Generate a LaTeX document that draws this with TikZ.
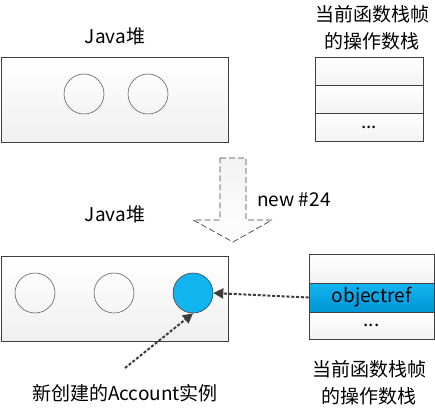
\documentclass[tikz,border=0pt]{standalone}
\usepackage{fontspec}
\setmainfont{Noto Sans CJK SC}
\usetikzlibrary{arrows.meta}

\definecolor{boxline}{HTML}{404040}
\definecolor{refblue}{HTML}{12B4F0}
\definecolor{refbluedark}{HTML}{0096D6}
\definecolor{linkgray}{HTML}{3C3C3C}

\tikzset{
  heap/.style={draw=boxline, line width=0.7pt, top color=white, bottom color=gray!12,
    minimum width=227pt, minimum height=85pt, inner sep=0pt},
  obj/.style={circle, draw=gray!75!black, line width=0.6pt, minimum size=40pt, inner sep=0pt},
  slot/.style={draw=boxline, line width=0.7pt, top color=white, bottom color=gray!10,
    inner sep=0pt},
  txt/.style={font=\fontsize{19}{27}\selectfont, align=center, inner sep=0pt},
  link/.style={draw=linkgray, line width=2pt, dash pattern=on 3pt off 1.8pt,
    -{Triangle[length=10pt,width=10pt]}}
}

\begin{document}
\begin{tikzpicture}[x=1pt, y=-1pt]
  \useasboundingbox (0,0) rectangle (435,410);

  % before new
  \node[txt] (heapA) at (115,36) {Java堆};
  \node[heap] (boxA) at (114.5,99.5) {};
  \node[obj] (a1) at (84,94) {};
  \node[obj] (a2) at (148,94) {};

  \node[txt] (stackA) at (372,28) {当前函数栈帧\\的操作数栈};
  \node[slot, minimum width=108pt, minimum height=28pt] (sa1) at (369,71) {};
  \node[slot, minimum width=108pt, minimum height=28pt] (sa2) at (369,99) {};
  \node[slot, minimum width=108pt, minimum height=28pt] (sa3) at (369,127.5) {};
  \node[txt] at (sa3) {...};

  % new #24
  \draw[dash pattern=on 6pt off 3pt, draw=boxline, line width=0.7pt, top color=gray!10, bottom color=white]
    (220,158) -- (246,158) -- (246,220) -- (272,220) -- (233,242) -- (193,220) -- (220,220) -- cycle;
  \node[txt, anchor=west] (newop) at (257,200) {new \#24};

  % after new
  \node[txt] (heapB) at (115,214) {Java堆};
  \node[heap] (boxB) at (114.5,298.5) {};
  \node[obj] (b1) at (35,293) {};
  \node[obj] (b2) at (114,293) {};
  \node[obj, fill=refblue, draw=boxline] (acct) at (193,293) {};

  \node[slot, minimum width=125pt, minimum height=29pt] (sb1) at (371.5,268.5) {};
  \node[slot, minimum width=125pt, minimum height=29pt, top color=refblue, bottom color=refbluedark] (sb2) at (371.5,297.5) {};
  \node[slot, minimum width=125pt, minimum height=27pt] (sb3) at (371.5,325.5) {};
  \node[txt] at (sb2) {objectref};
  \node[txt] at (sb3) {...};
  \node[txt] (stackB) at (369,383) {当前函数栈帧\\的操作数栈};

  \node[txt] (acctlbl) at (125,393) {新创建的Account实例};
  \coordinate (acctfrom) at (125,368);

  \draw[link] (sb2.west) -- (acct.east);
  \draw[link] (acctfrom) -- (acct.south);
\end{tikzpicture}
\end{document}
